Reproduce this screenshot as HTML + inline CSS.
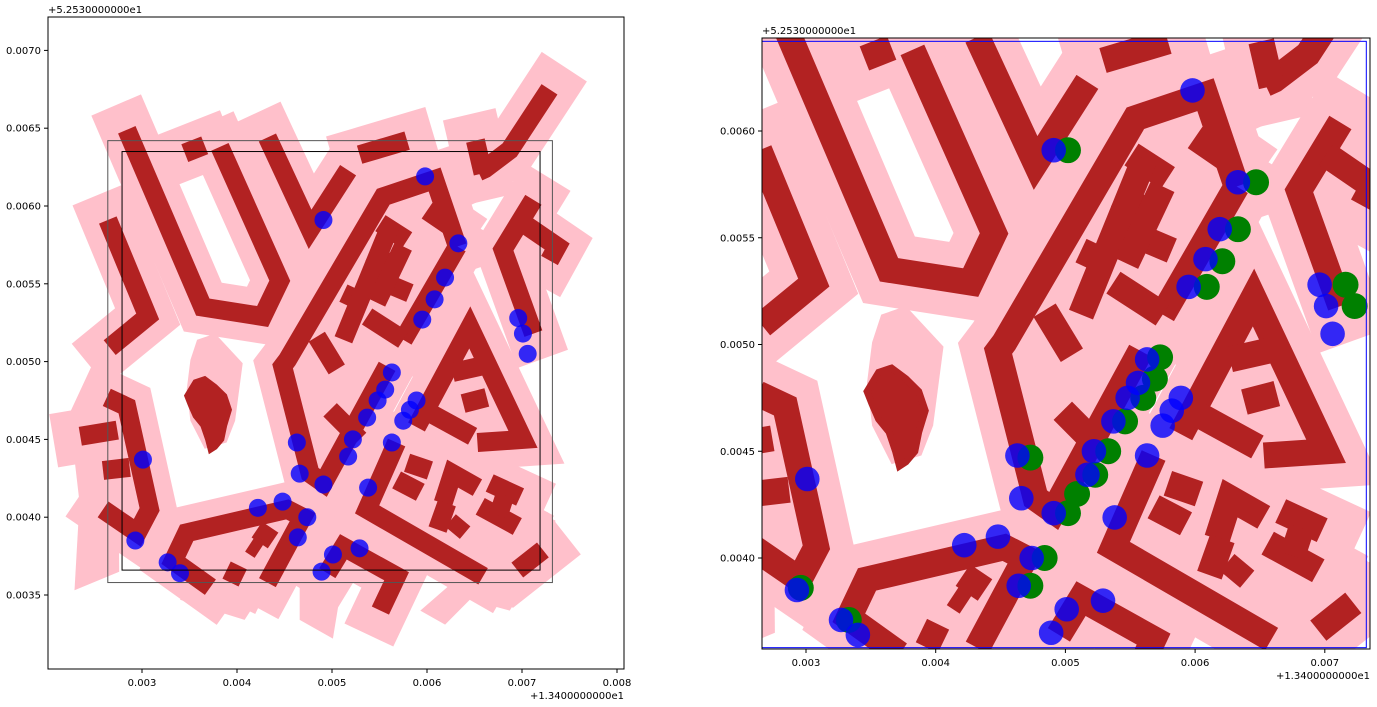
<!DOCTYPE html>
<html><head><meta charset="utf-8">
<style>
body{margin:0;background:#fff;}
svg{display:block;font-family:"DejaVu Sans","Liberation Sans",sans-serif;}
</style></head>
<body>
<svg id="chart" width="1377" height="707" viewBox="0 0 1377 707" xmlns="http://www.w3.org/2000/svg">
<defs>
<clipPath id="clipL"><rect x="48" y="17" width="576" height="652"/></clipPath>
<clipPath id="clipR"><rect x="762" y="38" width="608" height="611"/></clipPath>
</defs>
<g id="axL"></g>
<g id="axR"></g>
</svg>
<script>
// Data (lon offset in 1e-3 deg from 13.4; lat offset in 1e-3 deg from 52.53)
const buildings = [
 [[2.64,5.91],[3.06,5.29],[2.66,5.09]],
 [[2.84,6.49],[3.64,5.35],[4.27,5.29],[4.45,5.52],[3.82,6.38]],
 [[3.45,6.34],[3.66,6.39]],
 [[4.32,6.44],[4.77,5.85],[5.17,6.23]],
 [[5.29,6.33],[5.79,6.42]],
 [[7.29,6.75],[6.87,6.36],[6.61,6.24],[6.54,6.22]],
 [[6.51,6.42],[6.59,6.21]],
 [[6.32,5.74],[6.08,6.17],[5.54,6.06],[4.53,5.01],[4.48,4.97],[4.77,4.28],[4.91,4.22],[5.58,4.97]],
 [[6.32,5.74],[5.75,5.14]],
 [[5.51,5.89],[5.79,5.78]],
 [[6.00,5.97],[6.24,5.87]],
 [[5.40,5.70],[5.61,5.63]],
 [[5.51,5.52],[5.82,5.44]],
 [[5.12,5.44],[5.33,5.38]],
 [[5.61,5.87],[5.12,5.14]],
 [[5.75,5.74],[5.47,5.38]],
 [[5.37,5.29],[5.75,5.14]],
 [[4.84,5.16],[5.05,4.95]],
 [[4.98,4.69],[5.29,4.50]],
 [[7.12,6.04],[6.80,5.72],[7.12,5.18]],
 [[7.01,5.89],[7.37,5.74],[7.29,5.65]],
 [[5.89,4.58],[6.45,5.22],[7.01,4.50],[6.53,4.48]],
 [[6.27,4.93],[6.56,4.97]],
 [[6.38,4.73],[6.63,4.77]],
 [[6.03,4.67],[6.48,4.52]],
 [[2.63,4.77],[2.84,4.71],[3.08,4.05],[2.95,3.90],[2.59,4.05]],
 [[2.35,4.52],[2.74,4.56]],
 [[2.59,4.30],[2.87,4.32]],
 [[3.72,3.55],[3.33,3.72],[3.47,3.90],[4.53,4.05],[4.69,4.00],[4.32,3.58]],
 [[4.21,3.92],[4.38,3.85]],
 [[4.14,3.83],[4.24,3.79]],
 [[3.89,3.66],[4.06,3.61]],
 [[4.95,3.64],[5.12,3.81],[5.68,3.62],[5.51,3.40]],
 [[6.59,3.62],[5.37,4.05],[5.68,4.48]],
 [[5.79,4.35],[6.03,4.30]],
 [[5.68,4.24],[5.93,4.16]],
 [[6.17,4.09],[6.27,4.28],[6.53,4.19]],
 [[6.11,3.92],[6.21,4.09]],
 [[6.27,3.90],[6.38,3.98]],
 [[6.66,4.22],[6.98,4.13]],
 [[6.56,4.07],[6.95,3.94]],
 [[6.82,4.14],[6.75,4.01]],
 [[6.95,3.66],[7.22,3.79]]
];
const pinkAreas = [
 [[3.58,5.14],[3.77,5.18],[4.06,4.99],[3.98,4.62],[3.89,4.48],[3.66,4.44],[3.51,4.62],[3.47,4.82],[3.51,5.01]],
 [[4.66,3.34],[5.01,3.22],[5.12,3.63],[4.66,3.72]],
 [[5.93,3.40],[6.19,3.31],[6.45,3.47],[6.87,3.40],[7.08,3.60],[7.35,3.72],[7.35,3.98],[7.08,4.01]],
 [[2.29,3.53],[2.76,3.65],[2.75,4.30],[2.45,4.30],[2.33,3.97]],
 [[3.40,3.47],[4.08,3.34],[4.29,3.54],[4.13,3.73],[3.61,3.66]],
 [[6.32,5.74],[6.08,6.17],[5.54,6.06],[4.53,5.01],[4.48,4.97],[4.77,4.28],[4.91,4.22],[5.58,4.97],[5.75,5.14]],
 [[5.89,4.58],[6.45,5.22],[7.01,4.50],[6.53,4.48]],
 [[3.72,3.55],[3.33,3.72],[3.47,3.90],[4.53,4.05],[4.69,4.00],[4.32,3.58]],
 [[6.59,3.62],[5.37,4.05],[5.68,4.48],[6.2,4.4],[7.2,4.0],[7.3,3.7]]
];
const blobLon = [3.47,3.56,3.66,3.77,3.87,3.92,3.87,3.84,3.77,3.72,3.69,3.64,3.56,3.51];
const blobLat = [4.78,4.87,4.89,4.84,4.78,4.69,4.59,4.50,4.45,4.43,4.50,4.59,4.65,4.72];
const blueLon = [5.98,4.91,6.33,6.19,6.08,5.95,6.96,7.01,7.06,5.63,5.56,5.48,5.37,5.22,5.17,4.63,4.66,4.91,5.89,5.82,5.75,5.63,5.38,3.01,2.93,3.27,3.40,4.22,4.48,4.74,4.64,5.01,5.29,4.89];
const blueLat = [6.19,5.91,5.76,5.54,5.40,5.27,5.28,5.18,5.05,4.93,4.82,4.75,4.64,4.50,4.39,4.48,4.28,4.21,4.75,4.69,4.62,4.48,4.19,4.37,3.85,3.71,3.64,4.06,4.10,4.00,3.87,3.76,3.80,3.65];
const greenLon = [5.02,6.47,6.33,6.21,6.09,7.16,7.23,5.73,5.69,5.60,5.46,5.33,5.23,5.09,5.02,4.73,4.84,4.73,2.96,3.33];
const greenLat = [5.91,5.76,5.54,5.39,5.27,5.28,5.18,4.94,4.84,4.75,4.64,4.50,4.39,4.30,4.21,4.47,4.00,3.87,3.86,3.71];
const xTicksL = [3,4,5,6,7,8], xTickLabelsL = ["0.003","0.004","0.005","0.006","0.007","0.008"];
const yTicksL = [3.5,4.0,4.5,5.0,5.5,6.0,6.5,7.0], yTickLabelsL = ["0.0035","0.0040","0.0045","0.0050","0.0055","0.0060","0.0065","0.0070"];
const xTicksR = [3,4,5,6,7], xTickLabelsR = ["0.003","0.004","0.005","0.006","0.007"];
const yTicksR = [4.0,4.5,5.0,5.5,6.0], yTickLabelsR = ["0.0040","0.0045","0.0050","0.0055","0.0060"];
const outerBox = [2.64,7.32,3.58,6.42];
const innerBox = [2.79,7.19,3.66,6.35];

const NS = "http://www.w3.org/2000/svg";
function mk(tag, attrs, parent){const e=document.createElementNS(NS,tag);for(const k in attrs)e.setAttribute(k,attrs[k]);parent.appendChild(e);return e;}

function drawAxes(g, ax){
  const X = l => ax.x0 + (l-3)*ax.kx;
  const Y = a => ax.y0 - (a-6)*ax.ky;
  const s = ax.kx/95;
  const plot = mk('g',{'clip-path':ax.clip},g);
  
  
  const pts = arr => arr.map(p=>X(p[0]).toFixed(1)+','+Y(p[1]).toFixed(1)).join(' ');
  pinkAreas.forEach(p=>{
    const e=mk('polygon',{points:pts(p),fill:'pink'},plot);
    
    
  });
  buildings.forEach(b=>{
    const e=mk('polyline',{points:pts(b),fill:'none',stroke:'pink','stroke-width':54*s,'stroke-linejoin':'miter','stroke-linecap':'square'},plot);
    
    
  });
  const bpts = blobLon.map((l,i)=>[l,blobLat[i]]);
  const bb=mk('polygon',{points:pts(bpts),fill:'#b22222',stroke:'#b22222','stroke-width':5*s},plot);
  
  
  buildings.forEach(b=>{
    const e=mk('polyline',{points:pts(b),fill:'none',stroke:'#b22222','stroke-width':19*s,'stroke-linejoin':'miter','stroke-linecap':'butt'},plot);
    
    
  });
  if(ax.green){
    greenLon.forEach((l,i)=>{
      const c=mk('circle',{cx:X(l),cy:Y(greenLat[i]),r:9.5*s,fill:'green'},plot);
      
      
    });
  }
  blueLon.forEach((l,i)=>{
    const c=mk('circle',{cx:X(l),cy:Y(blueLat[i]),r:9*s,fill:'#0000ff',opacity:0.8},plot);
    
    
  });
  const ob=mk('rect',{x:X(outerBox[0]),y:Y(outerBox[3]),width:X(outerBox[1])-X(outerBox[0]),height:Y(outerBox[2])-Y(outerBox[3]),fill:'none',stroke:ax.green?'#0000ff':'#555','stroke-width':1},plot);
  
  
  if(!ax.green){
    const ib=mk('rect',{x:X(innerBox[0]),y:Y(innerBox[3]),width:X(innerBox[1])-X(innerBox[0]),height:Y(innerBox[2])-Y(innerBox[3]),fill:'none',stroke:'#000','stroke-width':1},plot);
    
    
  }
  const fr=mk('rect',{x:ax.L,y:ax.T,width:ax.R-ax.L,height:ax.B-ax.T,fill:'none',stroke:'#000','stroke-width':1},g);
  
  
  ax.xt.forEach((t,i)=>{
    const px=X(t);
    const ln=mk('line',{x1:px,x2:px,y1:ax.B,y2:ax.B+4,stroke:'#000'},g);
    
    
    const tx=mk('text',{x:px,y:ax.B+17,'text-anchor':'middle','font-size':10,fill:'#000'},g);
    tx.textContent=ax.xl[i];
    
    
  });
  ax.yt.forEach((t,i)=>{
    const py=Y(t);
    const ln=mk('line',{x1:ax.L-4,x2:ax.L,y1:py,y2:py,stroke:'#000'},g);
    
    
    const tx=mk('text',{x:ax.L-7,y:py+3.5,'text-anchor':'end','font-size':10,fill:'#000'},g);
    tx.textContent=ax.yl[i];
    
    
  });
  const oy=mk('text',{x:ax.L,y:ax.T-4,'font-size':10,fill:'#000'},g);
  oy.textContent='+5.2530000000e1';
  
  
  const ox=mk('text',{x:ax.R,y:ax.B+30,'text-anchor':'end','font-size':10,fill:'#000'},g);
  ox.textContent='+1.3400000000e1';
  
  
}
drawAxes(document.getElementById('axL'),{x0:142,kx:95,y0:206,ky:155.6,L:48,R:624,T:17,B:669,clip:'url(#clipL)',green:false,xt:xTicksL,xl:xTickLabelsL,yt:yTicksL,yl:yTickLabelsL});
drawAxes(document.getElementById('axR'),{x0:806,kx:129.7,y0:131,ky:213.5,L:762,R:1370,T:38,B:649,clip:'url(#clipR)',green:true,xt:xTicksR,xl:xTickLabelsR,yt:yTicksR,yl:yTickLabelsR});
</script>
</body></html>
